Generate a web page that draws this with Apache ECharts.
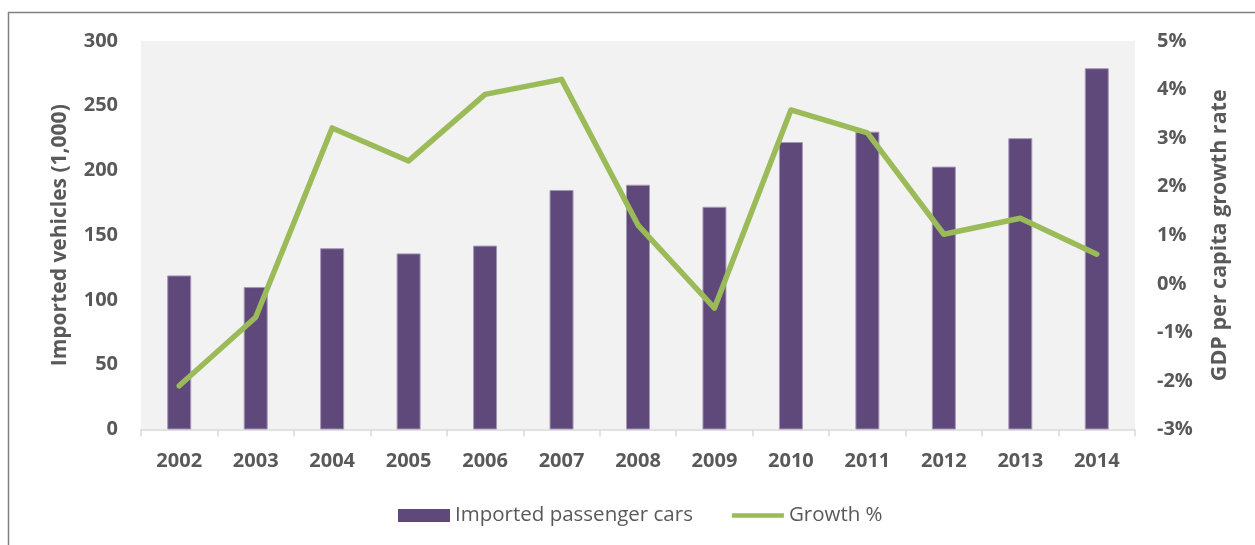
<!DOCTYPE html>
<html>
<head>
<meta charset="utf-8">
<script src="https://cdn.jsdelivr.net/npm/echarts@6/dist/echarts.min.js"></script>
<style>
  html, body { margin: 0; padding: 0; background: #ffffff; }
  #chart { width: 1255px; height: 545px; }
</style>
</head>
<body>
<div id="chart"></div>
<script>
// Years on the category axis
const years = ['2002', '2003', '2004', '2005', '2006', '2007', '2008', '2009', '2010', '2011', '2012', '2013', '2014'];
// Imported passenger cars, thousands
const importedCars = [119, 110, 140, 136, 142, 185, 189, 172, 222, 230, 203, 225, 279];
// GDP per capita growth, percent
const growthPct = [-2.10, -0.69, 3.21, 2.53, 3.90, 4.21, 1.21, -0.50, 3.58, 3.11, 1.02, 1.35, 0.61];

const textColor = '#595959';
const fontFamily = '"Open Sans", "Noto Sans", sans-serif';
const purple = '#5f497a';
const green = '#9bbb59';

const chart = echarts.init(document.getElementById('chart'), null, { renderer: 'canvas' });

chart.setOption({
  backgroundColor: '#ffffff',
  animation: false,
  textStyle: { fontFamily: fontFamily, color: textColor },
  graphic: [{
    type: 'rect',
    shape: { x: 8.5, y: 12.5, width: 1400, height: 700 },
    style: { fill: 'none', stroke: '#808080', lineWidth: 1.5 },
    silent: true,
    z: -1
  }],
  grid: {
    left: 141,
    right: 120,
    top: 41,
    bottom: 115.5,
    show: true,
    backgroundColor: '#f2f2f2',
    borderWidth: 0,
    containLabel: false
  },
  legend: {
    left: 393,
    top: 500,
    itemWidth: 52,
    itemHeight: 13,
    itemGap: 39,
    symbolKeepAspect: true,
    textStyle: { fontFamily: fontFamily, fontSize: 20.5, color: textColor },
    data: [
      { name: 'Imported passenger cars', icon: 'rect', itemStyle: { color: purple, borderWidth: 0 } },
      { name: 'Growth %', icon: 'path://M0,0 L56,0 L56,5 L0,5 Z', itemStyle: { color: green, borderWidth: 0 } }
    ]
  },
  xAxis: {
    type: 'category',
    data: years,
    boundaryGap: true,
    axisLine: { show: true, lineStyle: { color: '#d9d9d9', width: 1.5 } },
    axisTick: { show: true, length: 7, lineStyle: { color: '#d9d9d9', width: 1.5 } },
    axisLabel: { fontSize: 20, fontWeight: 'bold', color: textColor, margin: 22 },
    splitLine: { show: false }
  },
  yAxis: [
    {
      type: 'value',
      min: 0,
      max: 300,
      interval: 50,
      name: 'Imported vehicles (1,000)',
      nameLocation: 'middle',
      nameGap: 70,
      nameTextStyle: { fontSize: 21, fontWeight: 'bold', color: textColor },
      axisLine: { show: false },
      axisTick: { show: false },
      splitLine: { show: false },
      axisLabel: { fontSize: 20, fontWeight: 'bold', color: textColor, margin: 23 }
    },
    {
      type: 'value',
      min: -3,
      max: 5,
      interval: 1,
      position: 'right',
      name: 'GDP per capita growth rate',
      nameLocation: 'middle',
      nameGap: 74,
      nameRotate: 90,
      nameTextStyle: { fontSize: 21.5, fontWeight: 'bold', color: textColor },
      axisLine: { show: false },
      axisTick: { show: false },
      splitLine: { show: false },
      axisLabel: { fontSize: 20, fontWeight: 'bold', color: textColor, margin: 22, formatter: '{value}%' }
    }
  ],
  series: [
    {
      name: 'Imported passenger cars',
      type: 'bar',
      yAxisIndex: 0,
      data: importedCars,
      barWidth: 24,
      itemStyle: { color: purple, borderColor: '#a697b8', borderWidth: 1 }
    },
    {
      name: 'Growth %',
      type: 'line',
      yAxisIndex: 1,
      data: growthPct,
      symbol: 'none',
      lineStyle: { color: green, width: 5.5, cap: 'round', join: 'round' },
      itemStyle: { color: green },
      z: 5
    }
  ]
});
</script>
</body>
</html>
